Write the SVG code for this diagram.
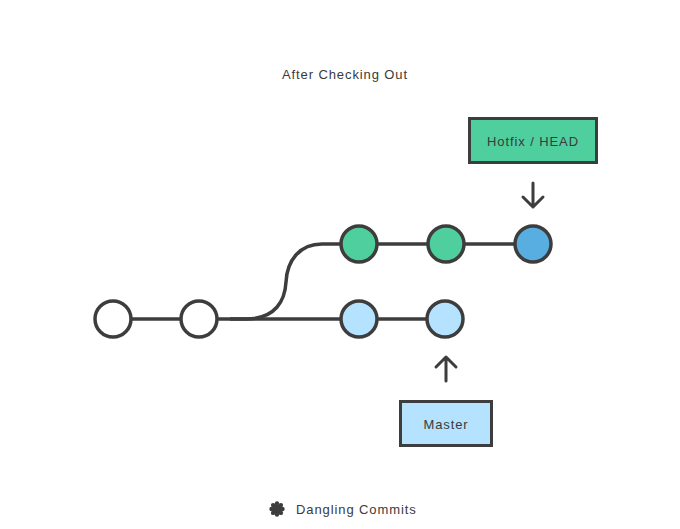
<svg xmlns="http://www.w3.org/2000/svg" width="680" height="529" viewBox="0 0 680 529">
<style>
.t{font-family:"Liberation Sans",Arial,sans-serif;font-size:13px;fill:#3a3a3a;letter-spacing:0.9px}
.c{stroke:#3d3d3d;stroke-width:3.5}
.l{stroke:#3d3d3d;stroke-width:3.5;fill:none}
.a{stroke:#3d3d3d;stroke-width:3;fill:none;stroke-linecap:round;stroke-linejoin:round}
</style>
<rect width="680" height="529" fill="#fff"/>
<text class="t" x="345" y="79" text-anchor="middle">After Checking Out</text>
<g id="connectors">
<line class="l" x1="113" y1="319" x2="199" y2="319"/>
<line class="l" x1="199" y1="319" x2="359" y2="319"/>
<line class="l" x1="359" y1="319" x2="445" y2="319"/>
<path class="l" d="M230,319 L246,319 C276,319 285,300 286,282 C287,260 300,244 322,244 L359,244"/>
<line class="l" x1="359" y1="244" x2="533" y2="244"/>
<path class="a" d="M533,183 V207 M523,197 L533,207 L543,197"/>
<path class="a" d="M446,381 V357 M436,367 L446,357 L456,367"/>
</g>
<g id="c1"><circle class="c" cx="113" cy="319" r="18" fill="#fff"/></g>
<g id="c2"><circle class="c" cx="199" cy="319" r="18" fill="#fff"/></g>
<g id="g1"><circle class="c" cx="359" cy="244" r="18" fill="#4ecf9d"/></g>
<g id="g2"><circle class="c" cx="446" cy="244" r="18" fill="#4ecf9d"/></g>
<g id="head"><circle class="c" cx="533" cy="244" r="18" fill="#58aee0"/></g>
<g id="b1"><circle class="c" cx="359" cy="319" r="18" fill="#b5e2fe"/></g>
<g id="b2"><circle class="c" cx="445" cy="319" r="18" fill="#b5e2fe"/></g>
<g id="hotfix">
<rect x="469.5" y="118.5" width="127" height="44" fill="#4ecf9d" stroke="#3d3d3d" stroke-width="3"/>
<text class="t" x="533" y="146" text-anchor="middle">Hotfix / HEAD</text>
</g>
<g id="master">
<rect x="400.5" y="401.5" width="91" height="44" fill="#b5e2fe" stroke="#3d3d3d" stroke-width="3"/>
<text class="t" x="446" y="429" text-anchor="middle">Master</text>
</g>
<g id="legend">
<g transform="translate(277,509)" fill="#3d3d3d">
<circle r="4.5"/>
<circle cx="0" cy="-5.5" r="2.2"/>
<circle cx="3.9" cy="-3.9" r="2.2"/>
<circle cx="5.5" cy="0" r="2.2"/>
<circle cx="3.9" cy="3.9" r="2.2"/>
<circle cx="0" cy="5.5" r="2.2"/>
<circle cx="-3.9" cy="3.9" r="2.2"/>
<circle cx="-5.5" cy="0" r="2.2"/>
<circle cx="-3.9" cy="-3.9" r="2.2"/>
</g>
<text class="t" x="296" y="514">Dangling Commits</text>
</g>
</svg>
